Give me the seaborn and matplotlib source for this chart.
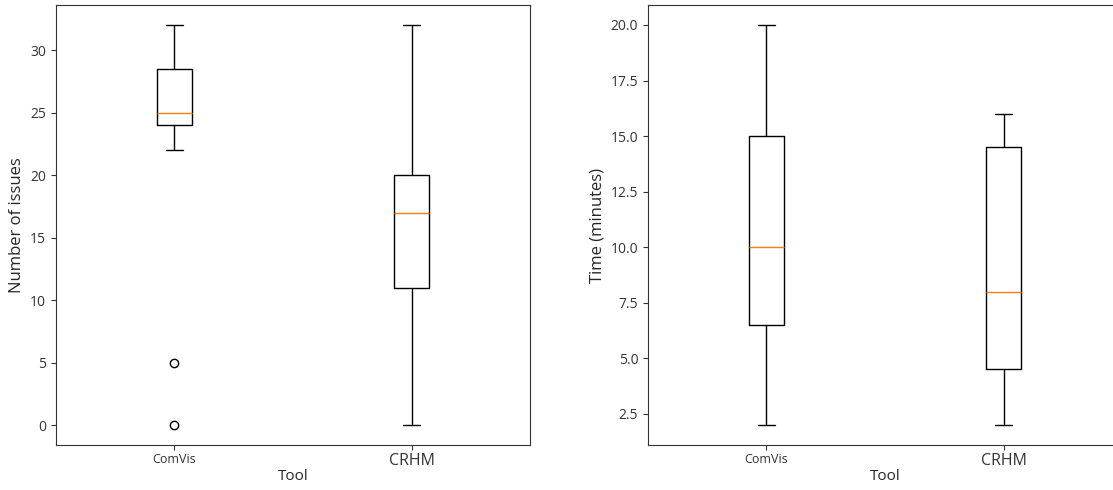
import pandas as pd
import numpy as np
import matplotlib.pyplot as plt
import seaborn as sns

# participant results per tool
tools = ["ComVis", "CRHM"]
issues_comvis = [0, 5, 22, 24, 24, 24, 25, 25, 26, 27, 28, 29, 30, 31, 32]
issues_crhm = [0, 3, 8, 10, 12, 14, 16, 17, 18, 19, 20, 20, 25, 29, 32]
time_comvis = [2, 3, 5, 6, 7, 8, 9, 10, 11, 13, 14, 16, 17, 19, 20]
time_crhm = [2, 3, 4, 4, 5, 6, 7, 8, 9, 11, 14, 15, 15, 16, 16]

df = pd.DataFrame({
    "Tool": [tools[0]] * len(issues_comvis) + [tools[1]] * len(issues_crhm),
    "Issues": issues_comvis + issues_crhm,
    "Time": time_comvis + time_crhm,
})

sns.set_style("ticks")
plt.rcParams["font.family"] = ["Open Sans", "DejaVu Sans"]

fig = plt.figure(figsize=(11.13, 4.9), dpi=100)
ax1 = fig.add_axes([0.0503, 0.0918, 0.4259, 0.898])
ax2 = fig.add_axes([0.5822, 0.0918, 0.4259, 0.898])

box_kws = dict(
    fill=False, color="black", width=0.15, linewidth=1, whis=1.5,
    medianprops={"color": "#ff7f0e"},
    flierprops={"marker": "o", "markerfacecolor": "none",
                "markeredgecolor": "black", "markersize": 6},
    capprops={"color": "black"}, capwidths=0.075,
)

for ax, col, label in [(ax1, "Issues", "Number of issues"),
                       (ax2, "Time", "Time (minutes)")]:
    sns.boxplot(data=df, x="Tool", y=col, order=tools, ax=ax, **box_kws)
    ax.set_xlim(-0.5, 1.5)
    ax.set_ylabel(label, fontsize=12)
    ax.set_xlabel("Tool", fontsize=11, labelpad=0)
    ax.tick_params(axis="y", labelsize=10, colors="#333333", labelcolor="#333333")
    ax.tick_params(axis="x", colors="#333333", pad=2)
    ticklabels = ax.get_xticklabels()
    ticklabels[0].set_fontsize(9)
    ticklabels[1].set_fontsize(11.5)
    for t in ticklabels:
        t.set_color("#333333")
    for s in ax.spines.values():
        s.set_visible(True)
        s.set_color("#333333")

ax1.set_ylim(-1.6, 33.6)
ax2.set_ylim(1.1, 20.9)
ax2.set_yticks(np.arange(2.5, 20.01, 2.5))

fig.savefig("out.png", dpi=100)
